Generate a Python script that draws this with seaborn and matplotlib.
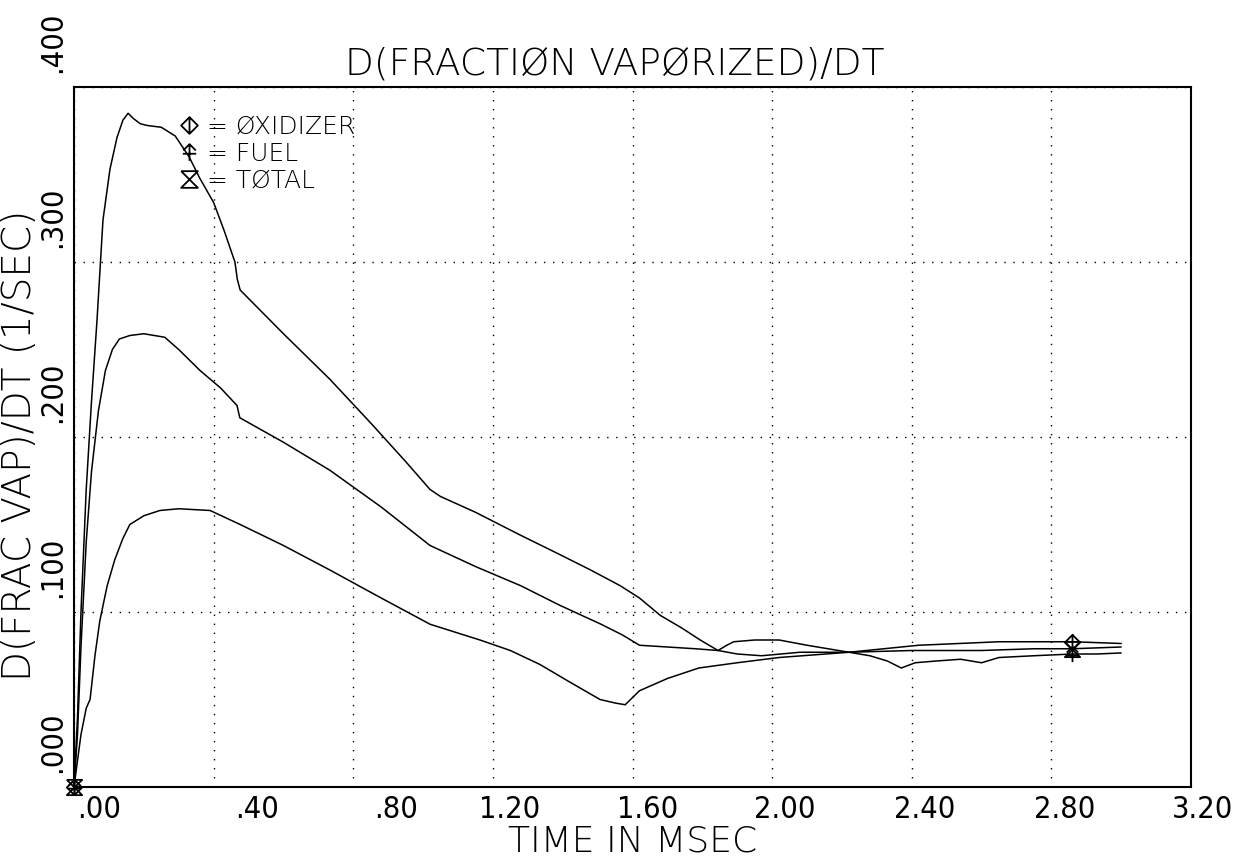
import numpy as np
import pandas as pd
import matplotlib
matplotlib.use("Agg")
import matplotlib.pyplot as plt
import seaborn as sns
from matplotlib.path import Path
from matplotlib.lines import Line2D
from matplotlib.transforms import ScaledTranslation

# ---------------- data ----------------
t_fuel = [0.00, 0.01, 0.02, 0.035, 0.05, 0.066, 0.083, 0.103, 0.123, 0.14,
          0.155, 0.17, 0.19, 0.21, 0.25, 0.29, 0.33, 0.36, 0.40, 0.43,
          0.461, 0.468, 0.476, 0.60, 0.733, 0.85, 0.95, 1.02, 1.05, 1.15,
          1.278, 1.39, 1.48, 1.565, 1.62, 1.68, 1.74, 1.794, 1.845, 1.87,
          1.89, 1.95, 2.02, 2.10, 2.16, 2.22, 2.28, 2.33, 2.37, 2.41,
          2.47, 2.54, 2.60, 2.65, 2.75, 2.86, 2.93, 3.00]
v_fuel = [0.000, 0.040, 0.100, 0.170, 0.220, 0.267, 0.324, 0.353, 0.371, 0.381,
          0.385, 0.382, 0.379, 0.378, 0.377, 0.372, 0.360, 0.348, 0.334, 0.318,
          0.300, 0.290, 0.284, 0.259, 0.233, 0.208, 0.186, 0.170, 0.166, 0.157,
          0.144, 0.133, 0.124, 0.115, 0.108, 0.098, 0.091, 0.084, 0.078, 0.081,
          0.083, 0.084, 0.084, 0.081, 0.079, 0.077, 0.075, 0.072, 0.068, 0.071,
          0.072, 0.073, 0.071, 0.074, 0.075, 0.076, 0.076, 0.0766]

t_total = [0.00, 0.01, 0.02, 0.035, 0.05, 0.07, 0.09, 0.11, 0.13, 0.16,
           0.20, 0.26, 0.30, 0.361, 0.42, 0.467, 0.475, 0.60, 0.733, 0.88,
           1.02, 1.15, 1.28, 1.39, 1.51, 1.57, 1.62, 1.70, 1.78, 1.845,
           1.90, 1.97, 2.08, 2.22, 2.40, 2.60, 2.75, 2.86, 3.00]
v_total = [0.000, 0.030, 0.080, 0.140, 0.180, 0.215, 0.238, 0.250, 0.256, 0.258,
           0.259, 0.257, 0.250, 0.238, 0.228, 0.218, 0.211, 0.197, 0.181, 0.160,
           0.138, 0.126, 0.115, 0.104, 0.093, 0.087, 0.081, 0.080, 0.079, 0.078,
           0.076, 0.075, 0.077, 0.077, 0.078, 0.078, 0.079, 0.079, 0.080]

t_oxid = [0.00, 0.01, 0.02, 0.035, 0.046, 0.06, 0.074, 0.095, 0.117, 0.14,
          0.16, 0.20, 0.246, 0.30, 0.39, 0.476, 0.60, 0.733, 0.88, 1.02,
          1.163, 1.25, 1.335, 1.42, 1.507, 1.55, 1.579, 1.62, 1.70, 1.79,
          1.90, 2.02, 2.22, 2.42, 2.65, 2.86, 3.00]
v_oxid = [0.000, 0.015, 0.030, 0.045, 0.050, 0.075, 0.095, 0.115, 0.130, 0.142,
          0.150, 0.155, 0.158, 0.159, 0.158, 0.150, 0.138, 0.124, 0.108, 0.093,
          0.084, 0.078, 0.070, 0.060, 0.050, 0.048, 0.047, 0.055, 0.062, 0.068,
          0.071, 0.074, 0.077, 0.081, 0.083, 0.083, 0.082]

marker_time = 2.86  # time where the plotter drew the end symbols

x_ticks = [0.0, 0.4, 0.8, 1.2, 1.6, 2.0, 2.4, 2.8, 3.2]
x_tick_labels = [".00", ".40", ".80", "1.20", "1.60", "2.00", "2.40", "2.80", "3.20"]
y_ticks = [0.0, 0.1, 0.2, 0.3, 0.4]
y_tick_labels = [".000", ".100", ".200", ".300", ".400"]

series_names = ["= ØXIDIZER", "= FUEL", "= TØTAL"]
title_text = "D(FRACTIØN VAPØRIZED)/DT"
x_label = "TIME IN MSEC"
y_label = "D(FRAC VAP)/DT (1/SEC)"

# ---------------- style ----------------
sns.set_style("white")
plt.rcParams["font.family"] = ["DejaVu Sans"]
plt.rcParams.update({"text.color": "black", "axes.labelcolor": "black",
                     "xtick.color": "black", "ytick.color": "black"})
THIN = 200

W, H = 1246, 863
fig = plt.figure(figsize=(W / 100, H / 100), dpi=100)
L, R, T, B = 74, 1191, 87, 787
ax = fig.add_axes([L / W, (H - B) / H, (R - L) / W, (B - T) / H])

M_, L_ = Path.MOVETO, Path.LINETO
oxid_marker = Path([(0, 1), (1, 0), (0, -1), (-1, 0), (0, 1), (0, -1)],
                   [M_, L_, L_, L_, L_, L_])
fuel_marker = Path([(0, -1), (0, 1), (-0.75, 0.25), (0, 1), (0.75, 0.25), (-0.8, -0.15), (0.8, -0.15)],
                   [M_, L_, M_, L_, L_, M_, L_])
total_marker = Path([(-1, 1), (1, 1), (-1, -1), (1, -1), (-1, 1)],
                    [M_, L_, L_, L_, L_])

series = [
    (t_oxid, v_oxid, oxid_marker),
    (t_fuel, v_fuel, fuel_marker),
    (t_total, v_total, total_marker),
]
for tt, vv, mk in series:
    df = pd.DataFrame({"t": tt, "v": vv})
    idx = int(np.argmin(np.abs(np.asarray(tt) - marker_time)))
    sns.lineplot(data=df, x="t", y="v", ax=ax, color="black", lw=1.1,
                 estimator=None, sort=False, marker=mk, markevery=[0, idx],
                 ms=11, mfc="none", mec="black", mew=1.3, clip_on=False)

ax.set_xlim(0, 3.2)
ax.set_ylim(0, 0.4)
ax.set_xticks(x_ticks)
ax.set_yticks(y_ticks)
ax.set_xticklabels(x_tick_labels, fontsize=22, fontstretch="condensed")
ax.set_yticklabels(y_tick_labels, fontsize=22, fontstretch="condensed", rotation=90,
                   va="center", ha="center")
ax.grid(True, color="black", linestyle=(0, (1, 5.5)), lw=1.0)
for s in ax.spines.values():
    s.set_color("black")
    s.set_linewidth(1.5)
ax.tick_params(axis="x", direction="out", length=8, width=1.3, color="black", pad=-2)
ax.tick_params(axis="y", direction="out", length=8.6, width=1.3, color="black", pad=6.5)

# plotter-style label offsets
x_off = [25, 43, 43, 17, 15, 13, 13, 13, 12]
for lbl, dx in zip(ax.get_xticklabels(), x_off):
    lbl.set_transform(lbl.get_transform() + ScaledTranslation(dx / 100, 0, fig.dpi_scale_trans))
for lbl in ax.get_yticklabels():
    lbl.set_transform(lbl.get_transform() + ScaledTranslation(0, 45 / 100, fig.dpi_scale_trans))

ax.set_xlabel(x_label, fontsize=26, va="center", fontweight=THIN)
ax.xaxis.set_label_coords(0.5, (B - 841) / (B - T))
ax.set_ylabel(y_label, fontsize=28, va="center", fontweight=THIN)
ax.yaxis.set_label_coords((20 - L) / (R - L), (B - 445) / (B - T))
ax.set_title(title_text, fontsize=27, x=(615 - L) / (R - L), pad=9, fontweight=THIN)

handles = [Line2D([], [], ls="none", marker=mk, ms=12, mfc="none", mec="black", mew=1.3)
           for _, _, mk in series]
leg = ax.legend(handles, series_names, loc="upper left", frameon=False,
                prop={"size": 18, "weight": THIN},
                bbox_to_anchor=(176 / W, 1 - 115 / H), bbox_transform=fig.transFigure,
                borderaxespad=0, borderpad=0, handlelength=1.0, handletextpad=0.25,
                labelspacing=0.12)

fig.savefig("out.png", dpi=100)
